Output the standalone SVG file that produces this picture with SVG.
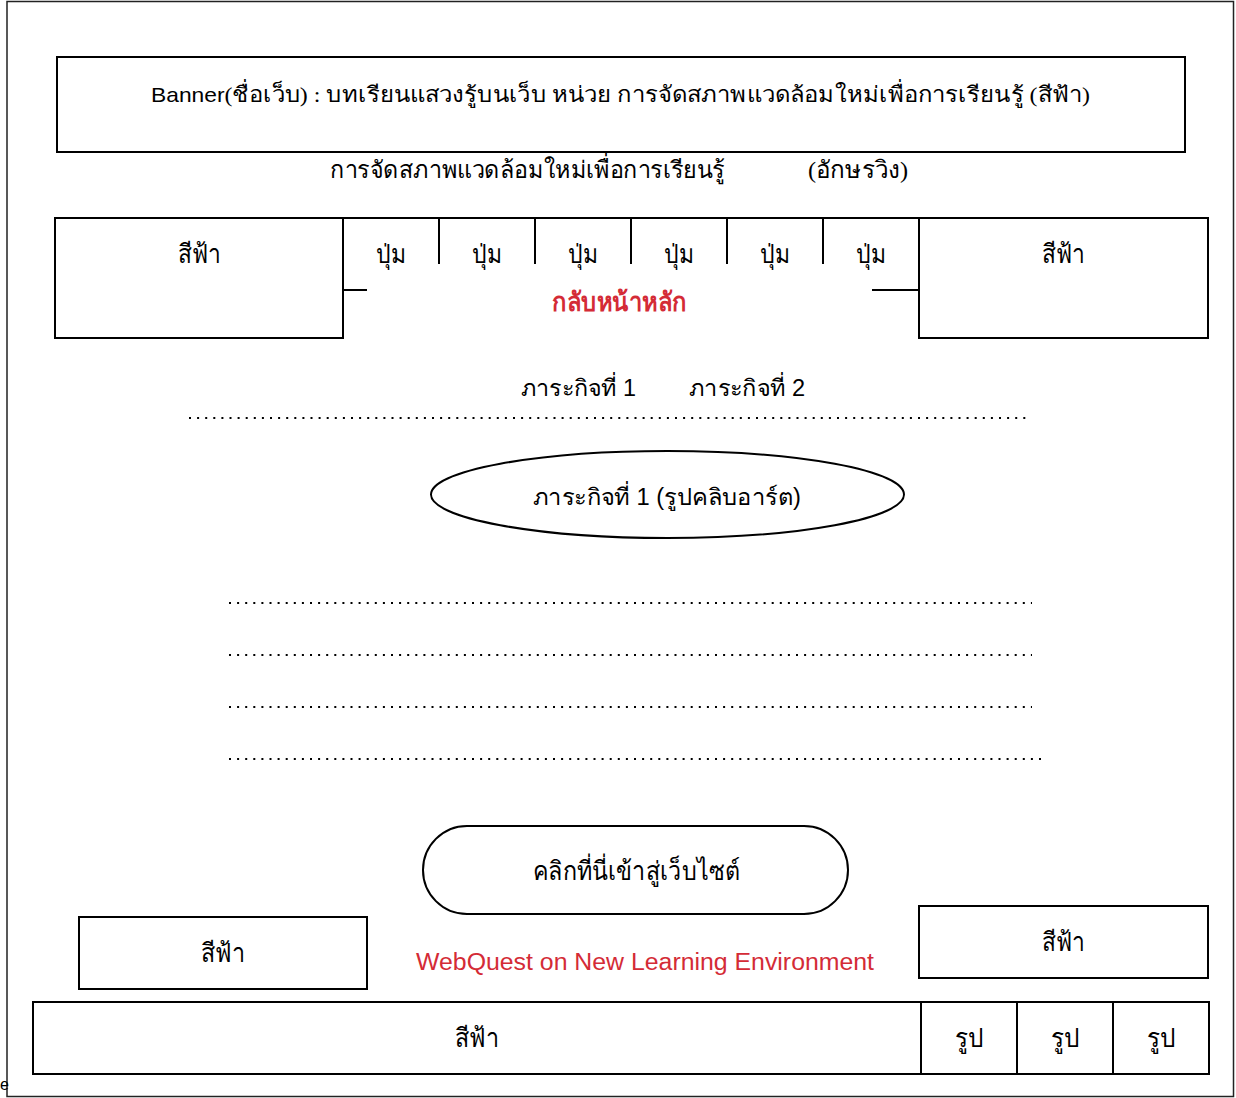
<svg xmlns="http://www.w3.org/2000/svg" width="1236" height="1098" viewBox="0 0 1236 1098">
<style>
.box{fill:#fff;stroke:#000;stroke-width:2}
.ln{stroke:#000;stroke-width:2;fill:none}
.dots{stroke:#000;stroke-width:2;stroke-dasharray:2 6.1;fill:none}
.th{font-family:"Liberation Serif",serif;fill:#000}
.en{font-family:"Liberation Sans",Arial,sans-serif;fill:#000}
.red{fill:#d42b36}
</style>
<rect x="0" y="0" width="1236" height="1098" fill="#fff"/>
<rect id="frame" x="7" y="1.5" width="1226.5" height="1095" fill="none" stroke="#222" stroke-width="1.5"/>
<text class="en" x="0" y="1090" font-size="16">e</text>

<g id="banner">
<rect class="box" x="57" y="57" width="1128" height="95"/>
<text class="th" x="151" y="102" font-size="22" textLength="939" lengthAdjust="spacingAndGlyphs"><tspan class="en" font-size="21">Banner</tspan>(ชื่อเว็บ) : บทเรียนแสวงรู้บนเว็บ หน่วย การจัดสภาพแวดล้อมใหม่เพื่อการเรียนรู้ (สีฟ้า)</text>
</g>

<g id="subtitle">
<text class="th" x="330" y="178" font-size="24" textLength="395" lengthAdjust="spacingAndGlyphs">การจัดสภาพแวดล้อมใหม่เพื่อการเรียนรู้</text>
<text class="th" x="808" y="178" font-size="24" textLength="100" lengthAdjust="spacingAndGlyphs">(อักษรวิง)</text>
</g>

<g id="nav-left">
<rect class="box" x="55" y="218" width="288" height="120"/>
<text class="th" x="178" y="263" font-size="26" textLength="43" lengthAdjust="spacingAndGlyphs">สีฟ้า</text>
</g>
<g id="nav-right">
<rect class="box" x="919" y="218" width="289" height="120"/>
<text class="th" x="1042" y="263" font-size="26" textLength="43" lengthAdjust="spacingAndGlyphs">สีฟ้า</text>
</g>

<g id="nav-buttons">
<line class="ln" x1="343" y1="218" x2="919" y2="218"/>
<line class="ln" x1="439" y1="218" x2="439" y2="264"/>
<line class="ln" x1="535" y1="218" x2="535" y2="264"/>
<line class="ln" x1="631" y1="218" x2="631" y2="264"/>
<line class="ln" x1="727" y1="218" x2="727" y2="264"/>
<line class="ln" x1="823" y1="218" x2="823" y2="264"/>
<line class="ln" x1="343" y1="290" x2="367" y2="290"/>
<line class="ln" x1="872" y1="290" x2="919" y2="290"/>
<text class="th" x="376" y="263" font-size="26" textLength="30" lengthAdjust="spacingAndGlyphs">ปุ่ม</text>
<text class="th" x="472" y="263" font-size="26" textLength="30" lengthAdjust="spacingAndGlyphs">ปุ่ม</text>
<text class="th" x="568" y="263" font-size="26" textLength="30" lengthAdjust="spacingAndGlyphs">ปุ่ม</text>
<text class="th" x="664" y="263" font-size="26" textLength="30" lengthAdjust="spacingAndGlyphs">ปุ่ม</text>
<text class="th" x="760" y="263" font-size="26" textLength="30" lengthAdjust="spacingAndGlyphs">ปุ่ม</text>
<text class="th" x="856" y="263" font-size="26" textLength="30" lengthAdjust="spacingAndGlyphs">ปุ่ม</text>
<text class="th red" x="552" y="311" font-size="26" font-weight="bold" textLength="135" lengthAdjust="spacingAndGlyphs">กลับหน้าหลัก</text>
</g>

<g id="tasks">
<text class="en" x="521" y="396" font-size="23" textLength="115" lengthAdjust="spacingAndGlyphs">ภาระกิจที่ 1</text>
<text class="en" x="689" y="396" font-size="23" textLength="116" lengthAdjust="spacingAndGlyphs">ภาระกิจที่ 2</text>
</g>

<g id="dotted-lines">
<line class="dots" x1="189" y1="418" x2="1031" y2="418"/>
<line class="dots" x1="229" y1="603" x2="1032" y2="603"/>
<line class="dots" x1="229" y1="655" x2="1032" y2="655"/>
<line class="dots" x1="229" y1="707" x2="1032" y2="707"/>
<line class="dots" x1="229" y1="759" x2="1047" y2="759"/>
</g>

<g id="task-ellipse">
<ellipse class="box" cx="667.5" cy="494.5" rx="236.5" ry="43.5"/>
<text class="en" x="533" y="505" font-size="23" textLength="268" lengthAdjust="spacingAndGlyphs">ภาระกิจที่ 1 (รูปคลิบอาร์ต)</text>
</g>

<g id="enter-button">
<rect class="box" x="423" y="826" width="425" height="88" rx="44" ry="44"/>
<text class="th" x="533" y="880" font-size="26" textLength="207" lengthAdjust="spacingAndGlyphs">คลิกที่นี่เข้าสู่เว็บไซต์</text>
</g>

<g id="footer-left">
<rect class="box" x="79" y="917" width="288" height="72"/>
<text class="th" x="201" y="962" font-size="26" textLength="44" lengthAdjust="spacingAndGlyphs">สีฟ้า</text>
</g>

<g id="footer-caption">
<text class="en red" x="416" y="970" font-size="23" textLength="458" lengthAdjust="spacingAndGlyphs">WebQuest on New Learning Environment</text>
</g>

<g id="footer-right">
<rect class="box" x="919" y="906" width="289" height="72"/>
<text class="th" x="1042" y="951" font-size="26" textLength="43" lengthAdjust="spacingAndGlyphs">สีฟ้า</text>
</g>

<g id="bottom-bar">
<rect class="box" x="33" y="1002" width="1176" height="72"/>
<line class="ln" x1="921" y1="1002" x2="921" y2="1074"/>
<line class="ln" x1="1017" y1="1002" x2="1017" y2="1074"/>
<line class="ln" x1="1113" y1="1002" x2="1113" y2="1074"/>
<text class="th" x="455" y="1047" font-size="26" textLength="44" lengthAdjust="spacingAndGlyphs">สีฟ้า</text>
<text class="th" x="955" y="1047" font-size="26" textLength="29" lengthAdjust="spacingAndGlyphs">รูป</text>
<text class="th" x="1051" y="1047" font-size="26" textLength="29" lengthAdjust="spacingAndGlyphs">รูป</text>
<text class="th" x="1147" y="1047" font-size="26" textLength="29" lengthAdjust="spacingAndGlyphs">รูป</text>
</g>
</svg>
